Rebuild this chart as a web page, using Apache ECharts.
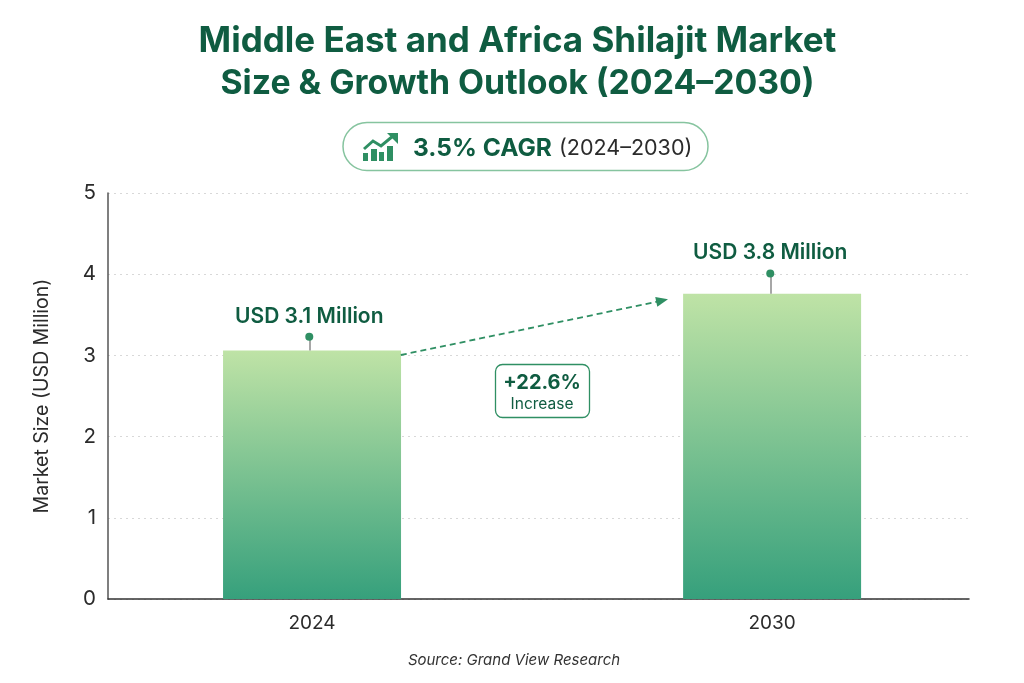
<!DOCTYPE html>
<html><head><meta charset="utf-8">
<style>html,body{margin:0;padding:0;background:#fff}#c{width:1024px;height:683px}</style>
<script src="https://cdn.jsdelivr.net/npm/echarts@6/dist/echarts.min.js"></script>
</head><body><div id="c"></div>
<script>
const categories = ['2024', '2030'];
const barValues = [3.06, 3.76];
const pinValues = [3.23, 4.01];
const pinLabels = ['USD 3.1 Million', 'USD 3.8 Million'];
const yTicks = [0, 1, 2, 3, 4, 5];
const FONT = 'Inter, "Noto Sans", sans-serif';
const DARK = '#0f5c41', MID = '#2f8f63', LINE = '#86c49f';
const pinX = [-0.006, 0.996];

const chart = echarts.init(document.getElementById('c'), null, {renderer: 'canvas'});
const iconBars = [[363, 153, 5, 8], [371, 149, 6, 12], [379, 152, 5, 9], [387, 146, 6, 15]];
const stems = pinValues.map((v, i) => [
  {coord: [pinX[i], barValues[i]], symbol: 'none', lineStyle: {color: '#8a8a8a', type: 'solid', width: 1.5}},
  {coord: [pinX[i], v], symbol: 'none'}
]);
chart.setOption({
  animation: false,
  backgroundColor: '#ffffff',
  textStyle: {fontFamily: FONT},
  title: {
    text: 'Middle East and Africa Shilajit Market',
    subtext: 'Size & Growth Outlook (2024–2030)',
    left: 512.5, top: 16, textAlign: 'center', itemGap: 3,
    textStyle: {fontFamily: FONT, fontSize: 35, fontWeight: 700, color: DARK, lineHeight: 40},
    subtextStyle: {fontFamily: FONT, fontSize: 33.8, fontWeight: 700, color: DARK, lineHeight: 40}
  },
  grid: {left: 108, right: 55, top: 193, bottom: 84},
  xAxis: {
    type: 'value', min: -0.4435, max: 1.428,
    splitLine: {show: false}, axisTick: {show: false},
    axisLine: {show: true, onZero: false, lineStyle: {color: '#333', width: 1.5}},
    axisLabel: {
      customValues: [0, 1], formatter: v => categories[Math.round(v)],
      fontFamily: FONT, fontSize: 19, color: '#2b2b2b', margin: 15
    }
  },
  yAxis: {
    type: 'value', min: yTicks[0], max: yTicks[yTicks.length - 1], interval: 1,
    name: 'Market Size (USD Million)', nameLocation: 'middle', nameGap: 56, nameRotate: 90,
    nameTextStyle: {fontFamily: FONT, fontSize: 19.5, color: '#2b2b2b'},
    axisTick: {show: false},
    axisLine: {show: true, onZero: false, lineStyle: {color: '#555', width: 1.5}},
    axisLabel: {fontFamily: FONT, fontSize: 20.5, color: '#2b2b2b', margin: 12, padding: [0, 0, 3, 0]},
    splitLine: {show: true, lineStyle: {color: '#d8d8d8', type: [2, 4], width: 1}}
  },
  series: [
    {
      type: 'bar', barWidth: 178, z: 2,
      data: barValues.map((v, i) => [i, v]),
      itemStyle: {color: new echarts.graphic.LinearGradient(0, 0, 0, 1, [
        {offset: 0, color: '#bfe3a6'}, {offset: 1, color: '#36a07c'}
      ])}
    },
    {
      type: 'scatter', z: 4, symbolSize: 8,
      itemStyle: {color: MID, opacity: 1},
      data: pinValues.map((v, i) => [pinX[i], v]),
      label: {
        show: true, position: 'top', distance: 6,
        formatter: p => pinLabels[p.dataIndex],
        fontFamily: FONT, fontSize: 21, fontWeight: 600, color: DARK
      },
      markLine: {
        silent: true, animation: false, z: 3,
        symbol: ['none', 'triangle'], symbolSize: [10, 12],
        lineStyle: {color: MID, type: [6, 4], width: 1.8},
        label: {show: false},
        data: [[{coord: [0.193, 3.005]}, {coord: [0.761, 3.675]}], ...stems]
      }
    }
  ],
  graphic: [
    {type: 'rect', z: 10, shape: {x: 343, y: 122.5, width: 365, height: 48, r: 24},
     style: {fill: '#fff', stroke: LINE, lineWidth: 1.5}},
    ...iconBars.map(b => ({type: 'rect', z: 11, shape: {x: b[0], y: b[1], width: b[2], height: b[3]}, style: {fill: MID}})),
    {type: 'polyline', z: 11, shape: {points: [[364, 149], [373, 141], [381, 146], [393, 136]]},
     style: {stroke: MID, lineWidth: 3, fill: null}},
    {type: 'polygon', z: 11, shape: {points: [[387, 133], [398, 133], [398, 144]]}, style: {fill: MID}},
    {type: 'text', z: 11, x: 413, y: 148.5, style: {text: '3.5% CAGR', fontFamily: FONT, fontSize: 24.5, fontWeight: 700, fill: DARK, textVerticalAlign: 'middle'}},
    {type: 'text', z: 11, x: 559, y: 149, style: {text: '(2024–2030)', fontFamily: FONT, fontSize: 21.5, fontWeight: 400, fill: '#2b2b2b', textVerticalAlign: 'middle'}},
    {type: 'rect', z: 10, shape: {x: 495.5, y: 364.5, width: 94, height: 53, r: 7},
     style: {fill: '#fff', stroke: MID, lineWidth: 1.3}},
    {type: 'text', z: 11, x: 542, y: 383, style: {text: '+22.6%', fontFamily: FONT, fontSize: 20, fontWeight: 700, fill: DARK, textAlign: 'center', textVerticalAlign: 'middle'}},
    {type: 'text', z: 11, x: 542, y: 404.5, style: {text: 'Increase', fontFamily: FONT, fontSize: 15.5, fontWeight: 400, fill: DARK, textAlign: 'center', textVerticalAlign: 'middle'}},
    {type: 'text', z: 11, x: 514, y: 660, style: {text: 'Source: Grand View Research', fontFamily: FONT, fontSize: 15, fontStyle: 'italic', fill: '#333', textAlign: 'center', textVerticalAlign: 'middle'}}
  ]
});
</script></body></html>
